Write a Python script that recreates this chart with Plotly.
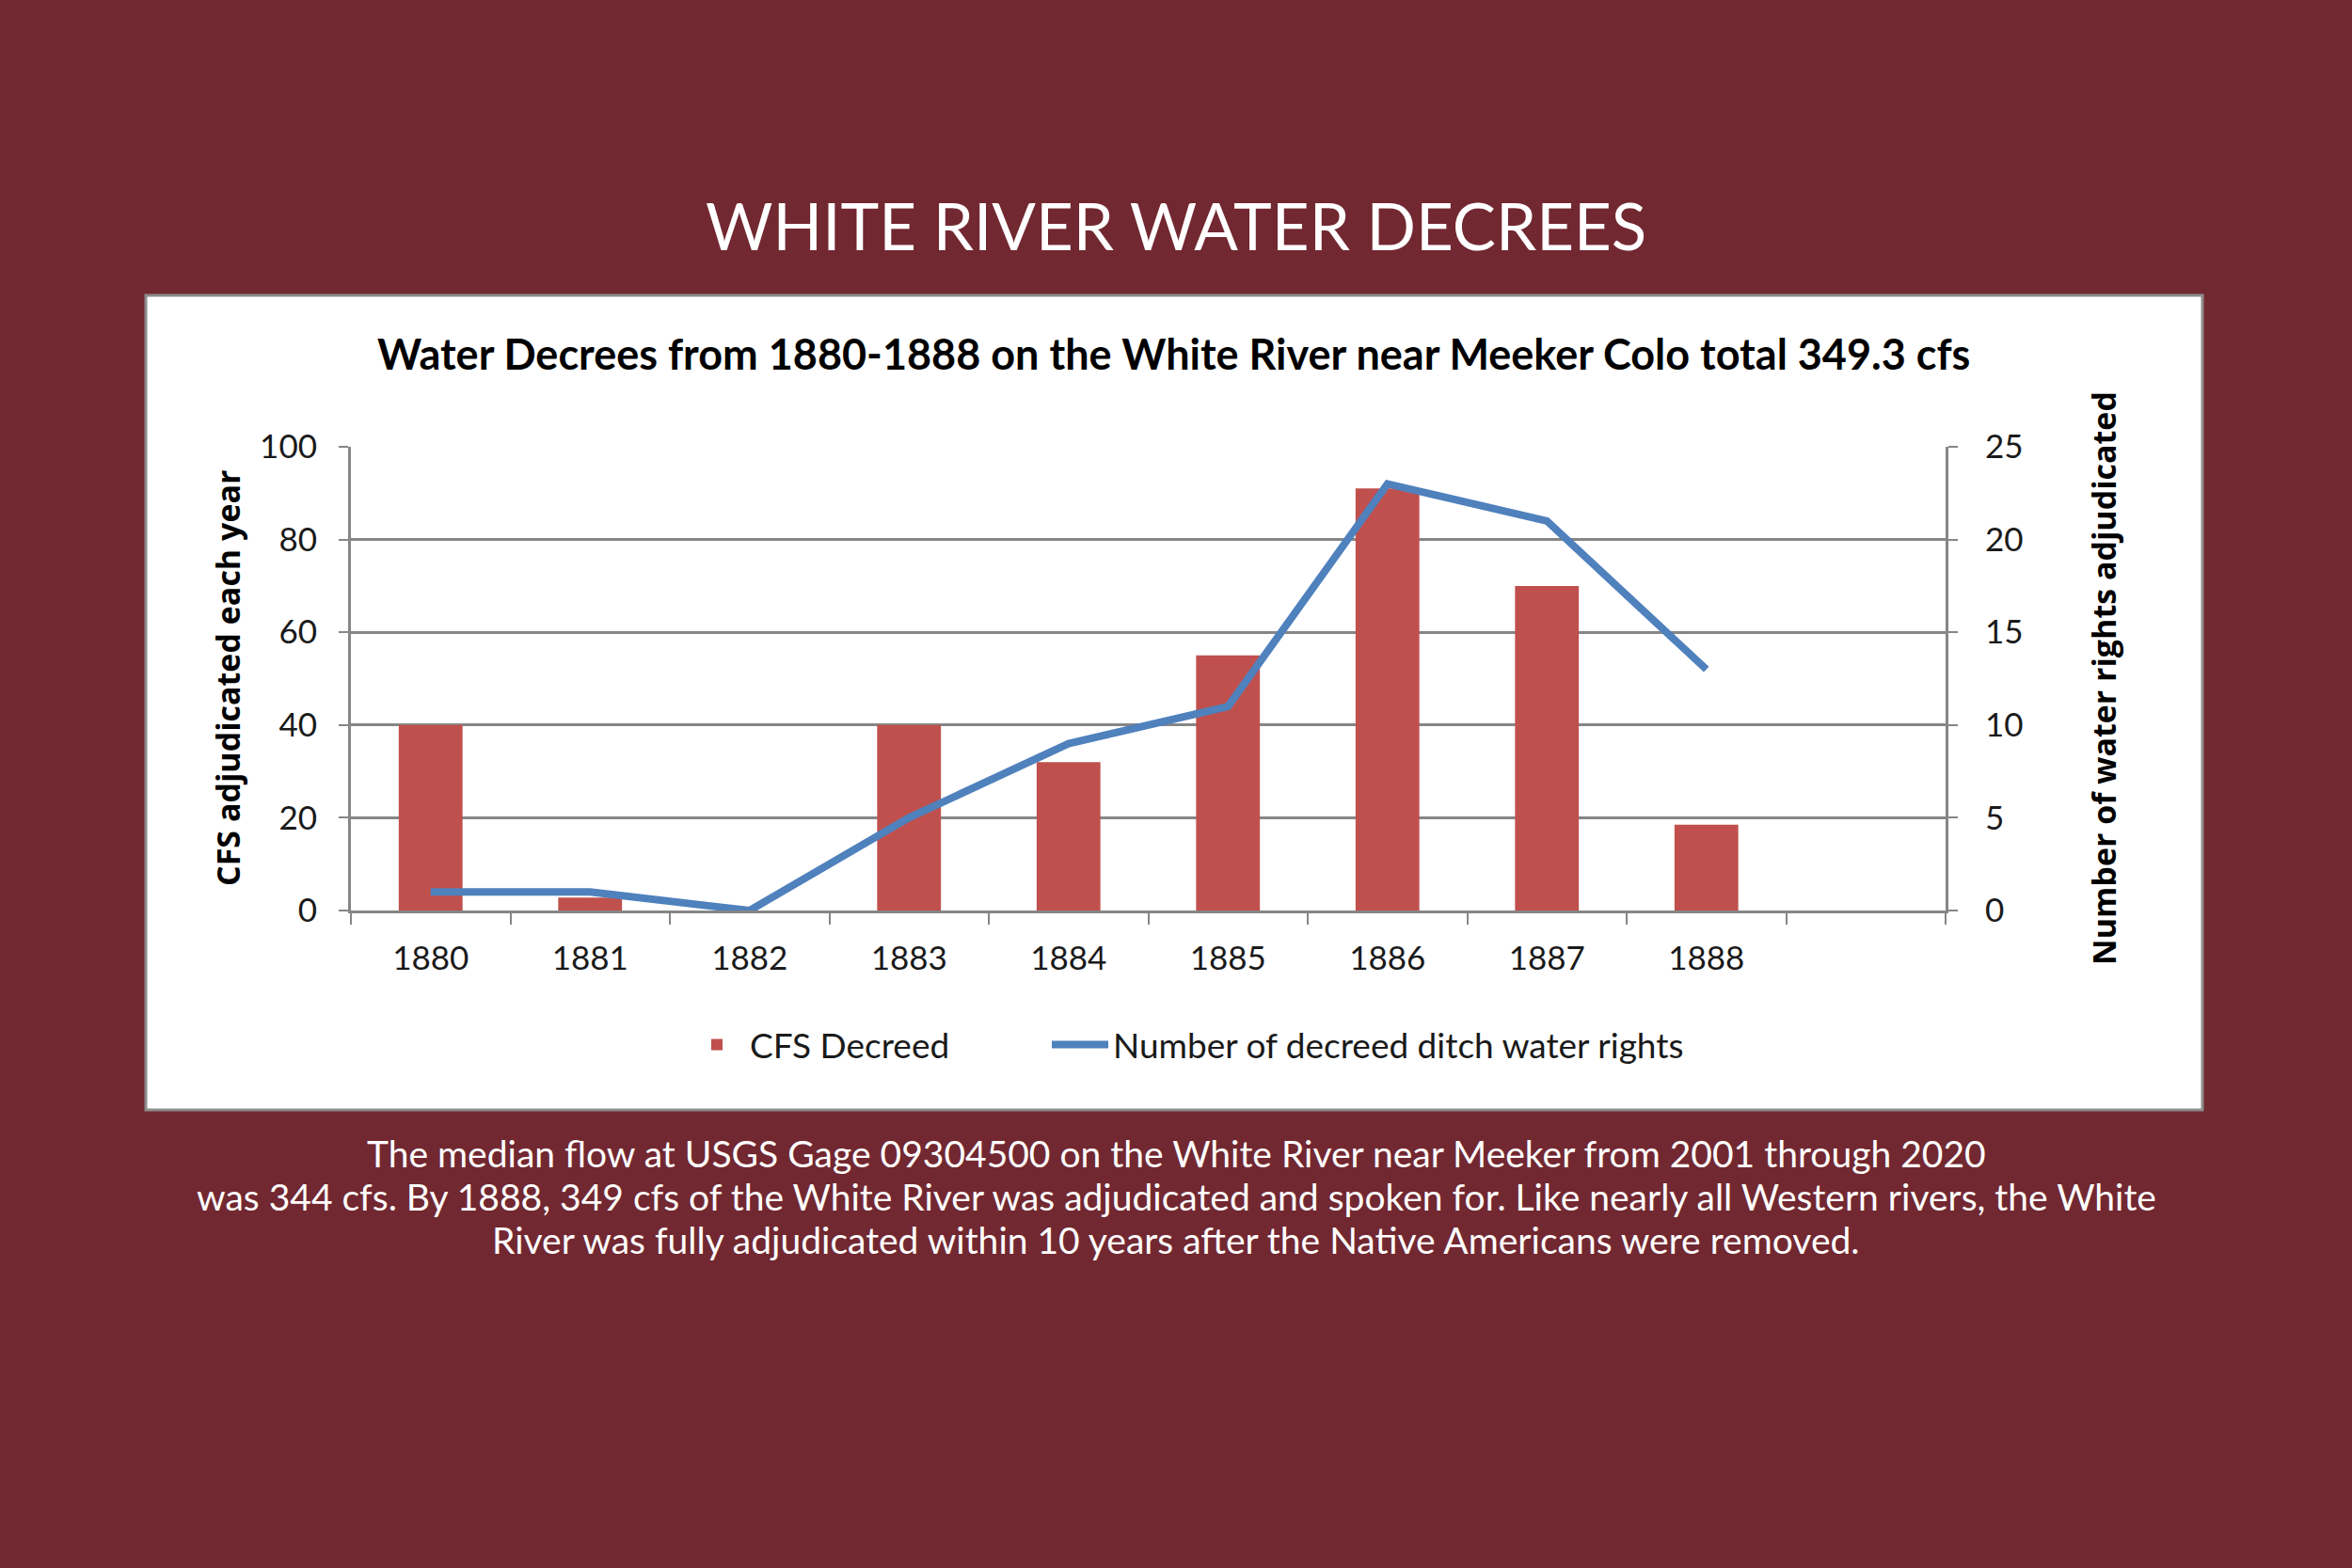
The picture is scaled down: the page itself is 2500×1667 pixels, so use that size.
import plotly.graph_objects as go

# ---- data ----
years = ["1880", "1881", "1882", "1883", "1884", "1885", "1886", "1887", "1888"]
cfs_decreed = [40, 2.8, 0, 40, 32, 55, 91, 70, 18.5]
num_rights = [1, 1, 0, 5, 9, 11, 23, 21, 13]
categories = years + [" "]

main_title = "WHITE RIVER WATER DECREES"
chart_title = "Water Decrees from 1880-1888 on the White River near Meeker Colo total 349.3 cfs"
left_title = "CFS adjudicated each year"
right_title = "Number of water rights adjudicated"
caption_lines = [
    "The median flow at USGS Gage 09304500 on the White River near Meeker from 2001 through 2020",
    "was 344 cfs. By 1888, 349 cfs of the White River was adjudicated and spoken for. Like nearly all Western rivers, the White",
    "River was fully adjudicated within 10 years after the Native Americans were removed.",
]
caption_y_px = [1226, 1272, 1318]

# ---- geometry (pixels) ----
W, H = 2500, 1667
L, R, T, B = 373, 2068, 475, 968


def px(x):
    return (x - L) / (R - L)


def py(y):
    return (B - y) / (B - T)


BG = "#722831"
RED = "#C0504D"
BLUE = "#4F81BD"
GRID = "#868686"
TXT = "#1a1a1a"
CHART_FONT = "Lato"

fig = go.Figure()
fig.add_trace(go.Bar(
    x=years, y=cfs_decreed, name="CFS Decreed",
    marker=dict(color=RED, line=dict(width=0)),
    yaxis="y", legend="legend",
))
fig.add_trace(go.Scatter(
    x=years, y=num_rights, name="Number of decreed ditch water rights",
    mode="lines", line=dict(color=BLUE, width=8),
    yaxis="y2", legend="legend2",
))

shapes = [
    dict(type="rect", xref="paper", yref="paper",
         x0=px(155), x1=px(2341), y0=py(1180), y1=py(314),
         fillcolor="white", line=dict(color="#8c8c8c", width=3), layer="below"),
]

annotations = [
    dict(text=main_title, x=px(1250), y=py(240), xref="paper", yref="paper",
         showarrow=False, font=dict(family="Lato", size=69, color="white"),
         xanchor="center", yanchor="middle"),
    dict(text="<b>" + chart_title + "</b>", x=px(1247), y=py(376), xref="paper", yref="paper",
         showarrow=False, font=dict(family=CHART_FONT, size=45, color="black"),
         xanchor="center", yanchor="middle"),
    dict(text="<b>" + left_title + "</b>", x=px(242), y=py(721), xref="paper", yref="paper",
         showarrow=False, textangle=-90, font=dict(family="Open Sans", size=34, color="black"),
         xanchor="center", yanchor="middle"),
    dict(text="<b>" + right_title + "</b>", x=px(2236), y=py(721), xref="paper", yref="paper",
         showarrow=False, textangle=-90, font=dict(family="Open Sans", size=34, color="black"),
         xanchor="center", yanchor="middle"),
]
for line, ypx in zip(caption_lines, caption_y_px):
    annotations.append(dict(text=line, x=px(1250), y=py(ypx), xref="paper", yref="paper",
                            showarrow=False, font=dict(family="Lato", size=39, color="white"),
                            xanchor="center", yanchor="middle"))

legend_common = dict(orientation="h", yanchor="middle", bgcolor="rgba(0,0,0,0)",
                     font=dict(family=CHART_FONT, size=37, color=TXT), itemwidth=60)

fig.update_layout(
    width=W, height=H,
    margin=dict(l=L, r=W - R, t=T, b=H - B, pad=0),
    paper_bgcolor=BG, plot_bgcolor="white",
    showlegend=True,
    legend=dict(x=px(727), y=py(1111), xanchor="left", **legend_common),
    legend2=dict(x=px(1113), y=py(1111), xanchor="left", **legend_common),
    bargap=0.6,
    xaxis=dict(type="category", categoryorder="array", categoryarray=categories,
               range=[-0.5, 9.5], tickson="boundaries", ticks="outside", ticklen=12,
               tickwidth=2, tickcolor=GRID, showline=True, linecolor=GRID, linewidth=3,
               showgrid=False, tickfont=dict(family=CHART_FONT, size=35, color=TXT),
               ticklabelstandoff=18, zeroline=False, fixedrange=True),
    yaxis=dict(range=[0, 100], dtick=20, ticks="outside", ticklen=10, tickwidth=2,
               tickcolor=GRID, showline=True, linecolor=GRID, linewidth=3,
               showgrid=True, gridcolor=GRID, gridwidth=3, zeroline=False,
               tickfont=dict(family=CHART_FONT, size=35, color=TXT), ticklabelstandoff=16),
    yaxis2=dict(range=[0, 25], dtick=5, overlaying="y", side="right", ticks="outside",
                ticklen=10, tickwidth=2, tickcolor=GRID, showline=True, linecolor=GRID,
                linewidth=3, showgrid=False, zeroline=False,
                tickfont=dict(family=CHART_FONT, size=35, color=TXT), ticklabelstandoff=22),
    shapes=shapes,
    annotations=annotations,
)

fig.write_html(
    "out.html",
    config={"displayModeBar": False},
    post_script="document.body.style.margin='0';document.body.style.overflow='hidden';",
)
